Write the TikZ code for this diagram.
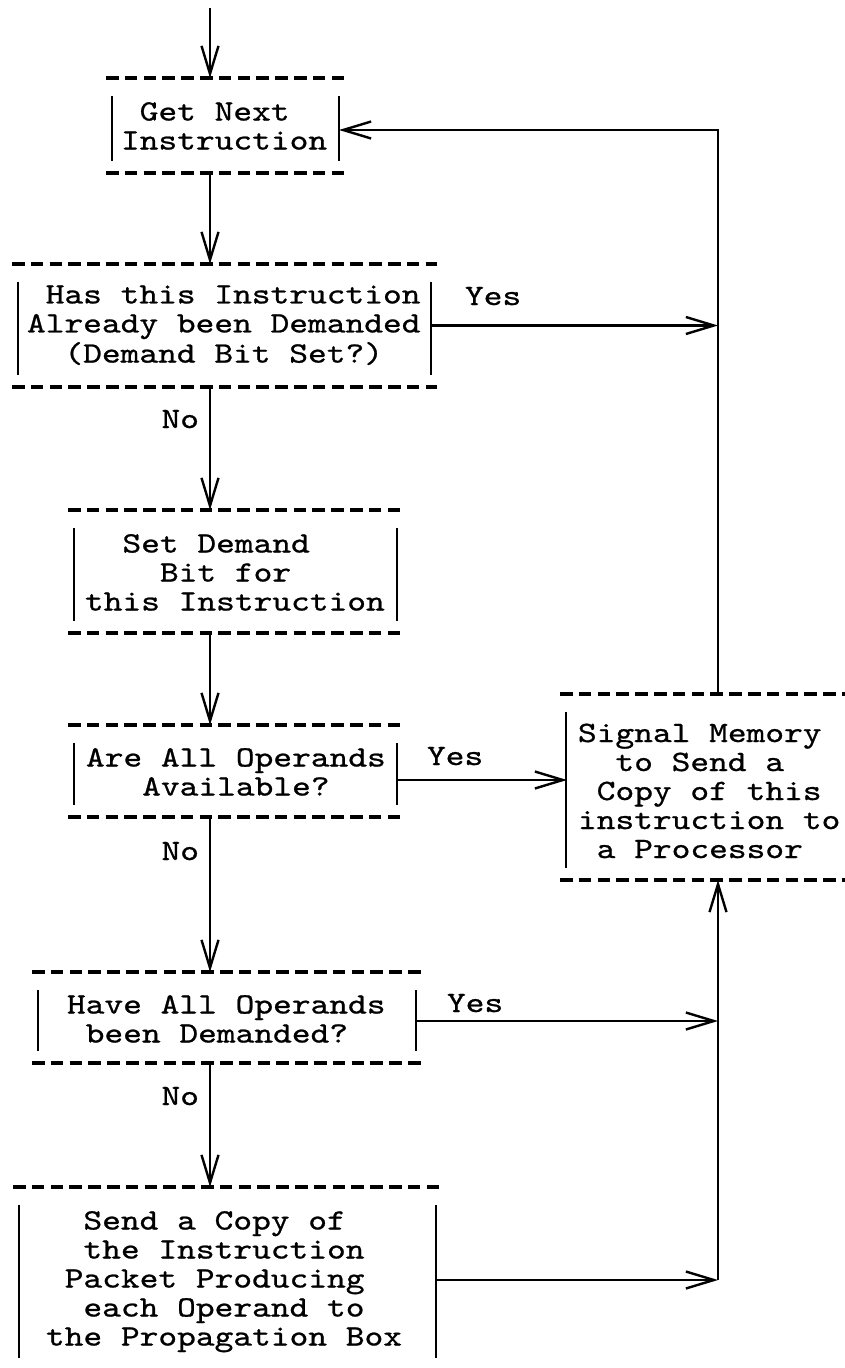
\documentclass[tikz,border=0pt]{standalone}
\usepackage{fontspec}
\newfontfamily\typefont{lmmono10-regular}[Extension=.otf,FakeStretch=1.21,FakeBold=0.8]
\usetikzlibrary{arrows.meta}

% leading blanks on a typed line, one per character given
\newcommand\pad[1]{\hphantom{#1}}
% typed frame parts of a box: dashed rules above/below, bars at the sides
\newcommand\ruleT[1]{\draw[typed] (#1.north west) -- (#1.north east);}
\newcommand\ruleB[1]{\draw[typed] (#1.south west) -- (#1.south east);}
\newcommand\sideL[1]{\draw[bar] ([shift={(6pt,-18pt)}]#1.north west) -- ([shift={(6pt,12pt)}]#1.south west);}
\newcommand\sideR[1]{\draw[bar] ([shift={(-6pt,-18pt)}]#1.north east) -- ([shift={(-6pt,12pt)}]#1.south east);}

\begin{document}
\begin{tikzpicture}[x=1pt,y=-1pt,
  typed/.style={line width=3.2pt, dash pattern=on 12.5pt off 6.3pt},
  bar/.style={line width=2.4pt},
  flow/.style={line width=2.4pt, -{Straight Barb[length=28pt,width=17pt]}},
  frame/.style={inner sep=0pt, outer sep=0pt, draw=none},
  words/.style={inner sep=0pt, outer sep=0pt, align=left, anchor=west,
    font=\typefont\fontsize{29.5}{29}\selectfont},
  tag/.style={inner sep=0pt, outer sep=0pt, font=\typefont\fontsize{29.5}{29}\selectfont}]

\path[use as bounding box, fill=white] (0,0) rectangle (844,1368);

% frames (extent of the dashed rules)
\node[frame, minimum width=239pt, minimum height=95pt]  (f1) at (225.5,125.5) {};
\node[frame, minimum width=425pt, minimum height=123pt] (f2) at (224.5,325.5) {};
\node[frame, minimum width=335pt, minimum height=123pt] (f3) at (235.5,571.5) {};
\node[frame, minimum width=335pt, minimum height=92pt]  (f4) at (235.5,771) {};
\node[frame, minimum width=390pt, minimum height=91pt]  (f5) at (227,1017.5) {};
\node[frame, minimum width=429pt, minimum height=183pt] (f6) at (227.5,1278.5) {};
\node[frame, minimum width=288pt, minimum height=186pt] (fs) at (704,787) {};

\ruleT{f1}\ruleB{f1}\sideL{f1}\sideR{f1}
\ruleT{f2}\ruleB{f2}\sideL{f2}\sideR{f2}
\ruleT{f3}\ruleB{f3}\sideL{f3}\sideR{f3}
\ruleT{f4}\ruleB{f4}\sideL{f4}\sideR{f4}
\ruleT{f5}\ruleB{f5}\sideL{f5}\sideR{f5}
\ruleT{f6}\sideL{f6}\sideR{f6}
\ruleT{fs}\ruleB{fs}\sideL{fs}

% box texts
\node[words] (t1) at (121,129.2) {\strut\pad{x}Get Next\\\strut Instruction};
\node[words] (t2) at (27,327.2) {\strut\pad{x}Has this Instruction\\\strut Already been Demanded\\\strut\pad{xx}(Demand Bit Set?)};
\node[words] (t3) at (85,575.7) {\strut\pad{xx}Set Demand\\\strut\pad{xxxx}Bit for\\\strut this Instruction};
\node[words] (t4) at (86,775.2) {\strut Are All Operands\\\strut\pad{xxx}Available?};
\node[words] (t5) at (67,1022.2) {\strut Have All Operands\\\strut\pad{x}been Demanded?};
\node[words] (t6) at (46,1281.7) {\strut\pad{xx}Send a Copy of\\\strut\pad{xx}the Instruction\\\strut\pad{x}Packet Producing\\\strut\pad{xx}each Operand to\\\strut the Propagation Box};
\node[words] (ts) at (578,794.2) {\strut Signal Memory\\\strut\pad{xx}to Send a\\\strut\pad{x}Copy of this\\\strut instruction to\\\strut\pad{x}a Processor};

% branch labels
\node[tag, anchor=base west] (y2) at (465,305) {Yes};
\node[tag, anchor=base west] (y4) at (427,765) {Yes};
\node[tag, anchor=base west] (y5) at (447,1012) {Yes};
\node[tag, anchor=base east] (n2) at (199,428) {No};
\node[tag, anchor=base east] (n4) at (199,860) {No};
\node[tag, anchor=base east] (n5) at (199,1105) {No};

% guide lines for the main column and the return rail
\coordinate (entry) at (210,8);
\coordinate (spine) at (210,0);
\coordinate (rail) at (718,0);
\coordinate (sbar) at (567,0);

% main downward flow
\draw[flow] (entry) -- (f1.north -| spine);
\draw[flow] (f1.south -| spine) -- (f2.north -| spine);
\draw[flow] (f2.south -| spine) -- (f3.north -| spine);
\draw[flow] (f3.south -| spine) -- (f4.north -| spine);
\draw[flow] (f4.south -| spine) -- (f5.north -| spine);
\draw[flow] (f5.south -| spine) -- (f6.north -| spine);

% Yes branches and the rail
\draw[flow] ([xshift=-6pt]f2.east) -- (rail |- f2.east);
\draw[flow] ([shift={(-6pt,-9pt)}]f4.east) -- ([yshift=-9pt]sbar |- f4.east);
\draw[flow] ([shift={(-6pt,-3.5pt)}]f5.east) -- ([yshift=-3.5pt]rail |- f5.east);
\draw[flow] ([shift={(-6pt,-1.5pt)}]f6.east) -- ([yshift=-1.5pt]rail |- f6.east);
\draw[flow] ([yshift=-1.5pt]rail |- f6.east) -- (rail |- fs.south);
\draw[flow] (rail |- fs.north) -- ([yshift=-4.5pt]rail |- f1.east) -- ([shift={(-6pt,-4.5pt)}]f1.east);

\end{tikzpicture}
\end{document}
